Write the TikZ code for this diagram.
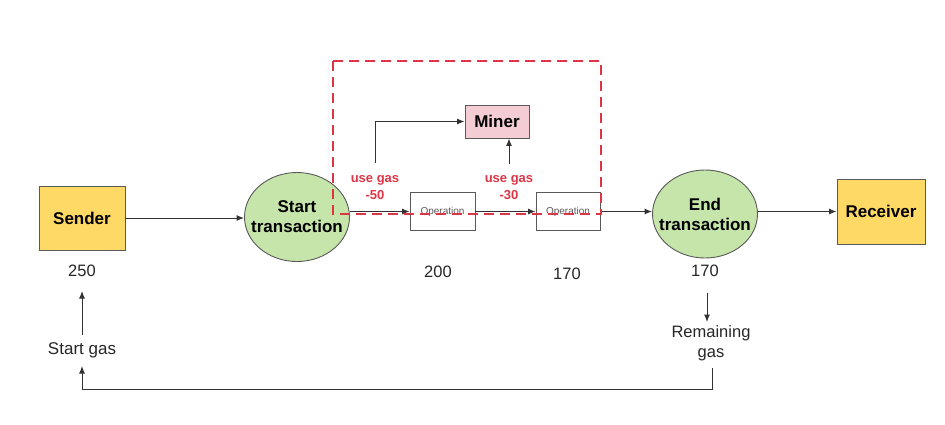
\documentclass[tikz,border=0pt]{standalone}
\usepackage{fontspec}
\setmainfont{Liberation Sans}
\usetikzlibrary{arrows.meta,shapes.geometric}
\definecolor{lineg}{HTML}{333333}
\definecolor{boxyel}{HTML}{FFD966}
\definecolor{ellgreen}{HTML}{C6E5AA}
\definecolor{minerpink}{HTML}{F4CCD4}
\definecolor{gasred}{HTML}{DD3545}
\begin{document}
\begin{tikzpicture}[x=1pt,y=-1pt,
  arr/.style={draw=lineg, line width=1pt, -{Latex[length=7.5pt,width=6pt]}},
  yelbox/.style={draw=black!65, line width=0.9pt, fill=boxyel, minimum width=86pt, minimum height=64pt, font=\fontsize{17}{20}\selectfont\bfseries},
  trans/.style={ellipse, draw=black!65, line width=0.9pt, fill=ellgreen, minimum width=105pt, minimum height=89pt, inner sep=0pt},
  transtxt/.style={align=center, inner sep=0pt, font=\fontsize{17}{20}\selectfont\bfseries},
  opbox/.style={draw=black!65, line width=0.9pt, fill=white, minimum width=65pt, minimum height=38pt, font=\fontsize{10}{12}\selectfont, text=black!65},
  numlbl/.style={font=\fontsize{16.5}{19}\selectfont, text=black!85},
  gaslbl/.style={font=\fontsize{13}{17}\selectfont\bfseries, text=gasred, align=center},
  reddash/.style={draw=gasred, line width=1.8pt, dash pattern=on 10pt off 6pt}
]
\useasboundingbox (0,0) rectangle (945,424);

\node[yelbox] (sender) at (82,218) {Sender};
\node[trans] (start) at (297,217) {};
\node[transtxt] (starttxt) at (start) {Start\\transaction};
\node[opbox] (op1) at (442.5,211.5) {Operation};
\node[opbox, minimum width=64pt] (op2) at (568,211.5) {Operation};
\node[trans, minimum height=88pt] (end) at (705,214) {};
\node[transtxt] (endtxt) at (end) {End\\transaction};
\node[yelbox, minimum width=88pt, minimum height=65pt] (receiver) at (881,211.5) {Receiver};
\node[draw=black!65, line width=0.9pt, fill=minerpink, minimum width=64pt, minimum height=33pt, font=\fontsize{17}{20}\selectfont\bfseries] (miner) at (497,121.5) {Miner};

\node[numlbl] (n250) at (82,271) {250};
\node[numlbl] (n200) at (438,272) {200};
\node[numlbl] (n170a) at (567,274) {170};
\node[numlbl] (n170b) at (705,271) {170};
\node[numlbl, font=\fontsize{17}{20}\selectfont] (startgas) at (82,350) {Start gas};
\node[numlbl, align=center, font=\fontsize{16.5}{19.5}\selectfont] (remgas) at (711,343) {Remaining\\gas};

\node[gaslbl] (ug50) at (375,187.5) {use gas\\-50};
\node[gaslbl] (ug30) at (509,187.5) {use gas\\-30};

\coordinate (c50) at (375,163);
\coordinate (c30) at (509,164);
\coordinate (cdn1) at (707,293);
\coordinate (cdn2) at (707,322);
\coordinate (crg) at (712,368);
\coordinate (cbr) at (712,389);
\coordinate (cbl) at (82,389);
\coordinate (cup1) at (82,366);
\coordinate (cup2) at (82,335);
\coordinate (cup3) at (82,291);

\draw[arr] (sender.east) -- (sender.east -| start.west);
\draw[arr] (start.east |- op1.west) -- (op1.west);
\draw[arr] (op1.east) -- (op2.west);
\draw[arr] (op2.east) -- (op2.east -| end.west);
\draw[arr] (end.east |- receiver.west) -- (receiver.west);
\draw[arr] (c50) |- (miner.west);
\draw[arr] (c30) -- (c30 |- miner.south);
\draw[arr] (cdn1) -- (cdn2);
\draw[arr] (crg) -- (cbr) -- (cbl) -- (cup1);
\draw[arr] (cup2) -- (cup3);

\draw[reddash] (333,61) rectangle (601,214);
\end{tikzpicture}
\end{document}
